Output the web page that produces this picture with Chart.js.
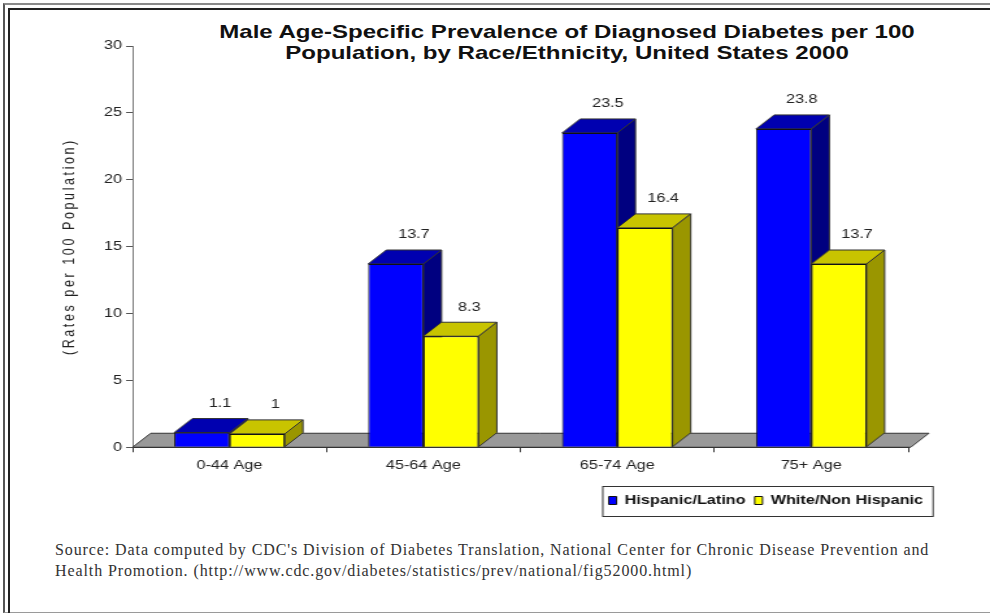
<!DOCTYPE html>
<html>
<head>
<meta charset="utf-8">
<title>Male Age-Specific Prevalence of Diagnosed Diabetes</title>
<script src="https://cdn.jsdelivr.net/npm/chart.js@4/dist/chart.umd.min.js"></script>
<style>
  body { margin: 0; background: #fff; width: 990px; height: 615px; overflow: hidden; position: relative;
         font-family: "Liberation Sans", Arial, sans-serif; }
  .frame-outer { position: absolute; left: 3px; top: 3px; width: 990px; height: 607px;
                 border-top: 2px solid #8a8a8a; border-left: 2px solid #555; border-bottom: 1px solid #9a9a9a; }
  .frame-inner { position: absolute; left: 8px; top: 8px; width: 990px; height: 603px;
                 border-top: 2px solid #222; border-left: 2px solid #222; }
  #chart_title { position: absolute; left: 217px; top: 21px; width: 700px; text-align: center;
                 font-weight: bold; font-size: 18.5px; line-height: 21px; color: #111;
                 transform: scaleX(1.3); transform-origin: 50% 0; }
  #source { position: absolute; left: 55px; top: 539px; width: 920px;
            font-family: "Liberation Serif", "Times New Roman", serif; font-size: 16px; line-height: 21px;
            letter-spacing: 0.9px; color: #333; }
  #diabetes_canvas { position: absolute; left: 0; top: 0; }
</style>
</head>
<body>
<div class="frame-outer"></div>
<div class="frame-inner"></div>
<div id="chart_title">Male Age-Specific Prevalence of Diagnosed Diabetes per 100<br>Population, by Race/Ethnicity, United States 2000</div>
<!-- the chart is drawn narrow and shown stretched, as in the original picture -->
<canvas id="diabetes_canvas" width="762" height="530" style="width:990px;height:530px"></canvas>
<div id="source">Source: Data computed by CDC's Division of Diabetes Translation, National Center for Chronic Disease Prevention and<br>Health Promotion. (http://www.cdc.gov/diabetes/statistics/prev/national/fig52000.html)</div>

<script>
var ageGroups = ['0-44 Age', '45-64 Age', '65-74 Age', '75+ Age'];
var hispanicRates = [1.1, 13.7, 23.5, 23.8];
var whiteRates = [1, 8.3, 16.4, 13.7];
var seriesNames = ['Hispanic/Latino', 'White/Non Hispanic'];

var font = '"Liberation Sans", Arial, sans-serif';
var depth = { dx: 14, dy: -14 };
var faceColors = [
    { top: '#0000b0', side: '#000080' },
    { top: '#c8c400', side: '#9a9600' }
];

function face(ctx, pts, fill) {
    ctx.beginPath();
    ctx.moveTo(pts[0][0], pts[0][1]);
    for (var i = 1; i < pts.length; i++) ctx.lineTo(pts[i][0], pts[i][1]);
    ctx.closePath();
    ctx.fillStyle = fill;
    ctx.fill();
    ctx.stroke();
}

var bar3d = {
    id: 'bar3d',
    afterLayout: function (chart) {
        // legend sits further right than the plot area
        chart.legend.left += 18.5;
        chart.legend.right += 18.5;
    },
    beforeDraw: function (chart) {
        // the rotated axis title is letter-spaced in the original
        var ys = chart.scales.y;
        if (!ys._spaced) {
            var orig = ys.drawTitle;
            ys.drawTitle = function () {
                this.ctx.letterSpacing = '2.6px';
                orig.apply(this, arguments);
                this.ctx.letterSpacing = '0px';
            };
            ys._spaced = true;
        }
    },
    beforeDatasetsDraw: function (chart) {
        var ctx = chart.ctx, area = chart.chartArea;
        var base = chart.scales.y.getPixelForValue(0);
        var dx = depth.dx, dy = depth.dy;
        ctx.save();
        ctx.lineWidth = 1;
        ctx.strokeStyle = '#333';
        face(ctx, [[area.left, base], [area.right + 2, base], [area.right + 2 + dx, base + dy], [area.left + dx, base + dy]], '#999999');
        chart.data.datasets.forEach(function (ds, i) {
            chart.getDatasetMeta(i).data.forEach(function (bar) {
                var l = bar.x - bar.width / 2, r = bar.x + bar.width / 2, t = bar.y, b = bar.base;
                face(ctx, [[l, t], [r, t], [r + dx, t + dy], [l + dx, t + dy]], faceColors[i].top);
                face(ctx, [[r, t], [r + dx, t + dy], [r + dx, b + dy], [r, b]], faceColors[i].side);
            });
        });
        ctx.restore();
    },
    afterDatasetsDraw: function (chart) {
        var ctx = chart.ctx;
        ctx.save();
        ctx.font = '12.5px ' + font;
        ctx.fillStyle = '#222';
        ctx.textAlign = 'center';
        ctx.textBaseline = 'middle';
        chart.data.datasets.forEach(function (ds, i) {
            chart.getDatasetMeta(i).data.forEach(function (bar, j) {
                ctx.fillText(String(ds.data[j]), bar.x + depth.dx, bar.y + depth.dy - 15);
            });
        });
        ctx.restore();
    },
    afterDraw: function (chart) {
        var hb = chart.legend.legendHitBoxes;
        if (!hb || !hb.length) return;
        var first = hb[0], last = hb[hb.length - 1];
        var cy = first.top + first.height / 2;
        var ctx = chart.ctx;
        ctx.save();
        ctx.strokeStyle = '#333';
        ctx.lineWidth = 1;
        var x0 = first.left - 4.6;
        var x1 = last.left + last.width + 7.7;
        ctx.strokeRect(x0, Math.round(cy - 15) + 0.5, x1 - x0, 30);
        ctx.restore();
    }
};

var canvas = document.getElementById('diabetes_canvas');

var chart = new Chart(canvas, {
    type: 'bar',
    data: {
        labels: ageGroups,
        datasets: [{
            label: seriesNames[0],
            data: hispanicRates,
            backgroundColor: '#0000ff',
            borderColor: '#111',
            borderWidth: 1
        }, {
            label: seriesNames[1],
            data: whiteRates,
            backgroundColor: '#ffff00',
            borderColor: '#111',
            borderWidth: 1
        }]
    },
    plugins: [bar3d],
    options: {
        responsive: false,
        animation: false,
        devicePixelRatio: 1,
        layout: {
            padding: { top: 46, left: 42, right: 63, bottom: 13.25 }
        },
        datasets: {
            bar: { categoryPercentage: 0.57, barPercentage: 1.0 }
        },
        scales: {
            x: {
                afterFit: function (s) { s.height = 40; },
                grid: { drawOnChartArea: false, tickLength: 5, color: '#333', offset: true },
                border: { color: '#111', width: 1 },
                ticks: { color: '#222', padding: 6, font: { family: font, size: 12.5 } }
            },
            y: {
                min: 0,
                max: 30,
                afterFit: function (s) { s.width = 60; },
                grid: { drawOnChartArea: false, tickLength: 5, color: '#555' },
                border: { color: '#777', width: 1 },
                ticks: { stepSize: 5, color: '#222', padding: 3, font: { family: font, size: 12.5 } },
                title: {
                    display: true,
                    text: '(Rates per 100 Population)',
                    color: '#222',
                    font: { family: font, size: 12.5 }
                }
            }
        },
        plugins: {
            legend: {
                position: 'bottom',
                align: 'end',
                labels: {
                    color: '#111',
                    boxWidth: 6,
                    boxHeight: 8,
                    padding: 7,
                    font: { family: font, size: 12.5, weight: 'bold' }
                }
            },
            tooltip: { enabled: false }
        }
    }
});
</script>
</body>
</html>
